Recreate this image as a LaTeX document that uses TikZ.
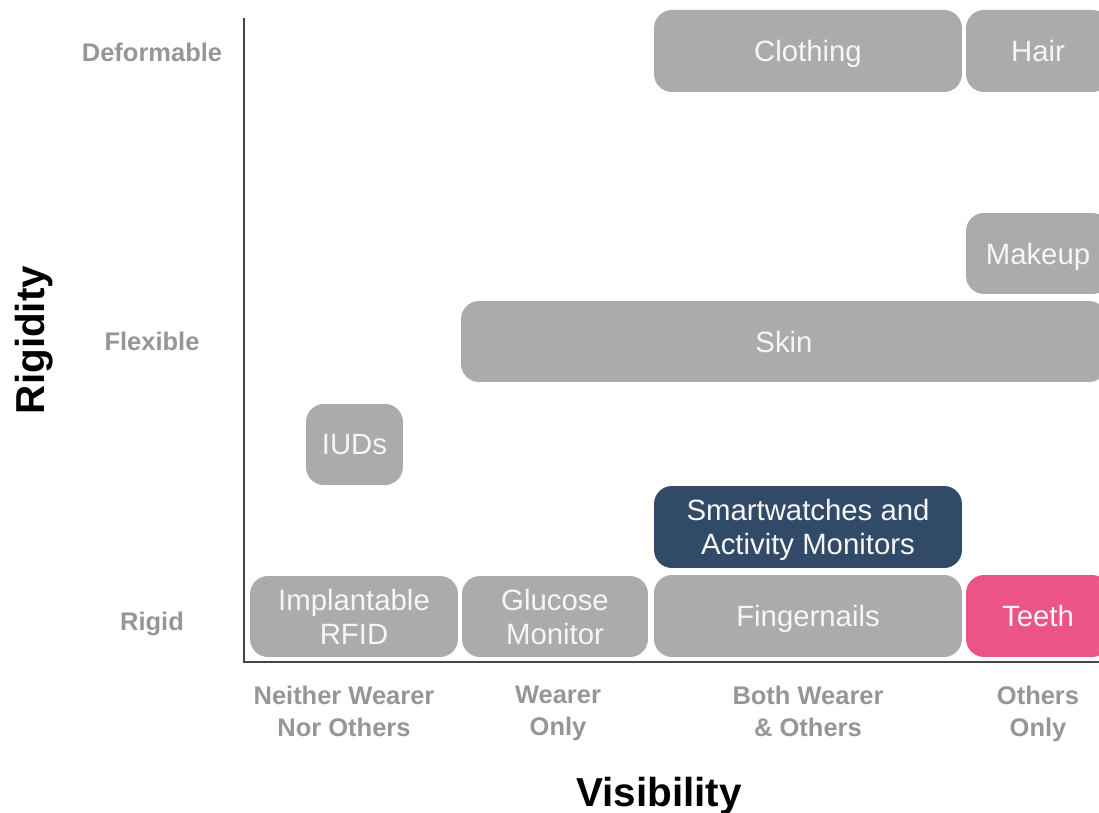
\documentclass[tikz,border=0pt]{standalone}
\usepackage{fontspec}
\setmainfont{Liberation Sans}
\definecolor{boxgrey}{RGB}{171,171,171}
\definecolor{navy}{RGB}{49,74,104}
\definecolor{pinkc}{RGB}{236,84,135}
\definecolor{lblgrey}{RGB}{150,150,150}
\definecolor{boxtext}{RGB}{246,246,246}
\definecolor{axisc}{RGB}{70,70,70}
\begin{document}
\begin{tikzpicture}[x=0.02cm,y=-0.02cm,
  cat/.style={rectangle, rounded corners=0.36cm, fill=boxgrey, text=boxtext,
    inner sep=0pt, align=center, text depth=0pt, font=\fontsize{16.7}{19.3}\selectfont},
  navybox/.style={cat, fill=navy},
  pinkbox/.style={cat, fill=pinkc},
  ticklbl/.style={text=lblgrey, align=center, text depth=0pt, font=\bfseries\fontsize{14.5}{18.2}\selectfont},
  axislbl/.style={text=black, text depth=0pt, font=\bfseries\fontsize{23}{26}\selectfont},
  axisline/.style={draw=axisc, line width=1.4pt}]
\useasboundingbox (0,0) rectangle (1099,813);
% axes
\coordinate (top) at (244,18);
\coordinate (origin) at (244,662);
\coordinate (right) at (1099,662);
\draw[axisline] (top) -- (origin) -- (right);
% boxes
\node[cat, minimum width=6.16cm, minimum height=1.64cm] (clothing) at (808,51) {Clothing};
\node[cat, minimum width=2.88cm, minimum height=1.64cm] (hair) at (1038,51) {Hair};
\node[cat, minimum width=2.88cm, minimum height=1.62cm] (makeup) at (1038,253.5) {Makeup};
\node[cat, minimum width=12.92cm, minimum height=1.62cm] (skin) at (784,341.5) {Skin};
\node[cat, minimum width=1.94cm, minimum height=1.62cm] (iuds) at (354.5,444.5) {IUDs};
\node[navybox, minimum width=6.16cm, minimum height=1.64cm] (smart) at (808,527) {Smartwatches and\\Activity Monitors};
\node[cat, minimum width=4.16cm, minimum height=1.62cm] (rfid) at (354,616.5) {Implantable\\RFID};
\node[cat, minimum width=3.72cm, minimum height=1.62cm] (glucose) at (555,616.5) {Glucose\\Monitor};
\node[cat, minimum width=6.16cm, minimum height=1.64cm] (nails) at (808,616) {Fingernails};
\node[pinkbox, minimum width=2.88cm, minimum height=1.64cm] (teeth) at (1038,616) {Teeth};
% tick labels
\node[ticklbl] (deform) at (152,52) {Deformable};
\node[ticklbl] (flex) at (152,341) {Flexible};
\node[ticklbl] (rigid) at (152,621) {Rigid};
\node[ticklbl] (neither) at (344,711) {Neither Wearer\\Nor Others};
\node[ticklbl] (wearer) at (558,711) {Wearer\\Only};
\node[ticklbl] (both) at (808,711) {Both Wearer\\\& Others};
\node[ticklbl] (others) at (1038,711) {Others\\Only};
% axis titles
\node[axislbl, rotate=90] (rigidity) at (30,340) {Rigidity};
\node[axislbl] (visibility) at (659,792) {Visibility};
\end{tikzpicture}
\end{document}
